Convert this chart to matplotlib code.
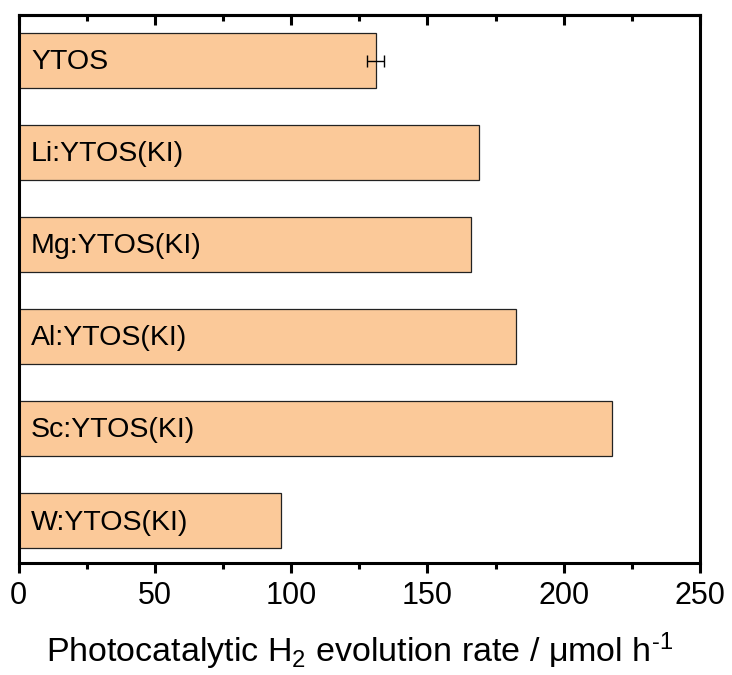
import matplotlib
matplotlib.use("Agg")
import matplotlib.pyplot as plt
import numpy as np

plt.rcParams['font.family'] = ['Liberation Sans', 'DejaVu Sans']
plt.rcParams['mathtext.fontset'] = 'custom'
plt.rcParams['mathtext.rm'] = 'Liberation Sans'
plt.rcParams['mathtext.it'] = 'Liberation Sans'
plt.rcParams['mathtext.default'] = 'regular'

# H2 evolution rates for each sample
samples = ["YTOS", "Li:YTOS(KI)", "Mg:YTOS(KI)", "Al:YTOS(KI)", "Sc:YTOS(KI)", "W:YTOS(KI)"]
rates = [131.0, 169.0, 166.0, 182.5, 217.8, 96.2]
errors = [3.2, 0, 0, 0, 0, 0]

bar_color = "#FBC999"

fig = plt.figure(figsize=(7.32, 6.75), dpi=100)
ax = fig.add_axes([0.0253, 0.1659, 0.9310, 0.8119])

ypos = np.arange(len(samples))
ax.barh(ypos, rates, height=0.6, color=bar_color, edgecolor="#222222", linewidth=0.9)
ax.errorbar(rates[0], ypos[0], xerr=errors[0], fmt="none", ecolor="black",
            elinewidth=1.0, capsize=4.5, capthick=1.0)

for y, name in zip(ypos, samples):
    ax.text(4.6, y + 0.02, name, va="center", ha="left", fontsize=20.5)

ax.set_xlim(0, 250)
ax.set_ylim(5.46, -0.495)
ax.set_xticks(np.arange(0, 251, 50))
ax.set_xticks(np.arange(25, 250, 50), minor=True)
ax.set_yticks([])

for s in ax.spines.values():
    s.set_linewidth(2.2)

ax.tick_params(axis="x", which="major", direction="out", length=7, width=2.2,
               labelsize=22, pad=6)
ax.tick_params(axis="x", which="minor", direction="out", length=4, width=2.2)

# mirrored ticks along the top, pointing inward
top = ax.secondary_xaxis("top")
top.set_xticks(np.arange(0, 251, 50))
top.set_xticks(np.arange(25, 250, 50), minor=True)
top.tick_params(axis="x", which="major", direction="in", length=7, width=2.2, labeltop=False)
top.tick_params(axis="x", which="minor", direction="in", length=4, width=2.2)
top.spines["top"].set_linewidth(2.2)

ax.set_xlabel("Photocatalytic H$_2$ evolution rate / \u03bcmol h$^{\u2010 1}$",
              fontsize=24.5, labelpad=14)

fig.savefig("out.png", dpi=100)
